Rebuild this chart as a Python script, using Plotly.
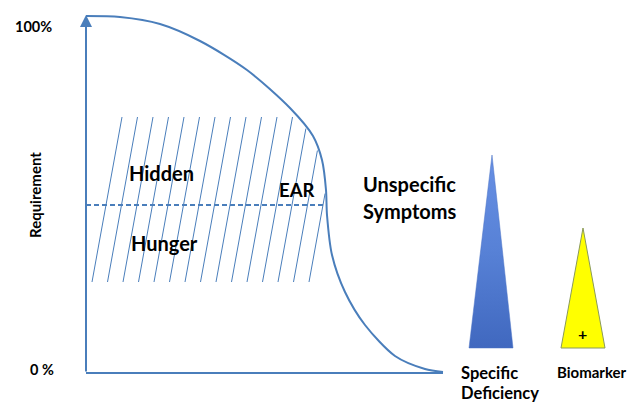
import numpy as np
import plotly.graph_objects as go

# ---- data (diagram coordinates, image-like space: x right, y down) ----
curve_x = [86, 120, 160, 200, 247, 290, 313, 322, 326, 327, 332, 345, 365, 395, 425, 443]
curve_y = [16, 17, 24, 41, 70, 108, 136, 160, 190, 215, 255, 292, 325, 356, 369, 372]

axis_origin = (86, 373)
axis_top_y = 15
axis_right_x = 443

ear_y = 205
hatch_bottom_x = [92, 107.5, 123, 138.5, 154, 169.5, 185, 200.5, 216, 231.5, 247, 262.5, 278, 293.5, 309]
hatch_bottom_y = 282
hatch_top_y = 117
hatch_slant = 30

spec_tri_x = [492, 469, 513, 492]
spec_tri_y = [155, 348, 348, 155]
bio_tri_x = [583, 561, 605, 583]
bio_tri_y = [228, 348, 348, 228]

BLUE = "#4a7ebb"
FONT = "Lato"

fig = go.Figure()

# axes
ox, oy = axis_origin
fig.add_trace(go.Scatter(x=[ox, axis_right_x], y=[oy, oy], mode="lines",
                         line=dict(color=BLUE, width=2), hoverinfo="skip"))
fig.add_annotation(x=ox, y=axis_top_y, ax=ox, ay=oy, xref="x", yref="y", axref="x", ayref="y",
                   showarrow=True, arrowhead=2, arrowsize=1.2, arrowwidth=2, arrowcolor=BLUE, text="")

# curve
fig.add_trace(go.Scatter(x=curve_x, y=curve_y, mode="lines",
                         line=dict(color=BLUE, width=2, shape="spline", smoothing=0.8),
                         hoverinfo="skip"))

# hatching clipped by the curve
cx = np.array(curve_x, float)
cy = np.array(curve_y, float)
hx, hy = [], []
ys = np.linspace(hatch_bottom_y, hatch_top_y, 400)
for xb in hatch_bottom_x:
    xl = xb + hatch_slant * (hatch_bottom_y - ys) / (hatch_bottom_y - hatch_top_y)
    inside = xl <= np.interp(ys, cy, cx) - 1
    if not inside.any():
        continue
    idx = np.argmax(~inside) if (~inside).any() else len(ys)
    hx += [xl[0], xl[idx - 1], None]
    hy += [ys[0], ys[idx - 1], None]
fig.add_trace(go.Scatter(x=hx, y=hy, mode="lines", line=dict(color=BLUE, width=1), hoverinfo="skip"))

# EAR dashed line
ear_x_end = float(np.interp(ear_y, cy, cx))
fig.add_trace(go.Scatter(x=[ox, ear_x_end], y=[ear_y, ear_y], mode="lines",
                         line=dict(color=BLUE, width=2, dash="5px,3px"), hoverinfo="skip"))

# triangles
fig.add_trace(go.Scatter(x=spec_tri_x, y=spec_tri_y, mode="lines", fill="toself",
                         line=dict(color="#4a72c4", width=0.5),
                         fillgradient=dict(type="vertical",
                                           colorscale=[[0, "#4068bf"], [0.5, "#5781d6"], [1, "#6890e4"]]),
                         hoverinfo="skip"))
fig.add_trace(go.Scatter(x=bio_tri_x, y=bio_tri_y, mode="lines", fill="toself",
                         fillcolor="#ffff00", line=dict(color="#8a9a5b", width=1), hoverinfo="skip"))

def txt(x, y, s, size, xanchor="center", angle=0):
    fig.add_annotation(x=x, y=y, text="<b>%s</b>" % s, showarrow=False, xanchor=xanchor, yanchor="middle",
                       textangle=angle, font=dict(family=FONT, size=size, color="black"))

txt(33, 26, "100%", 14.5)
txt(42, 369, "0 %", 14.5)
txt(35, 195, "Requirement", 15, angle=-90)
txt(161, 173, "Hidden", 20)
txt(164, 243, "Hunger", 20)
txt(296, 190, "EAR", 18.5)
txt(361, 184, "Unspecific", 20, xanchor="left")
txt(361, 211, "Symptoms", 20, xanchor="left")
txt(582, 333, "+", 16)
txt(459, 373, "Specific", 16.5, xanchor="left")
txt(459, 393, "Deficiency", 16.5, xanchor="left")
txt(592, 372, "Biomarker", 15)

fig.update_layout(width=637, height=402, margin=dict(l=0, r=0, t=0, b=0),
                  paper_bgcolor="white", plot_bgcolor="white", showlegend=False,
                  xaxis=dict(range=[0, 637], visible=False, fixedrange=True),
                  yaxis=dict(range=[402, 0], visible=False, fixedrange=True))
fig.write_html("out.html", config={"displayModeBar": False},
               post_script="document.body.style.margin='0';document.body.style.overflow='hidden';")
